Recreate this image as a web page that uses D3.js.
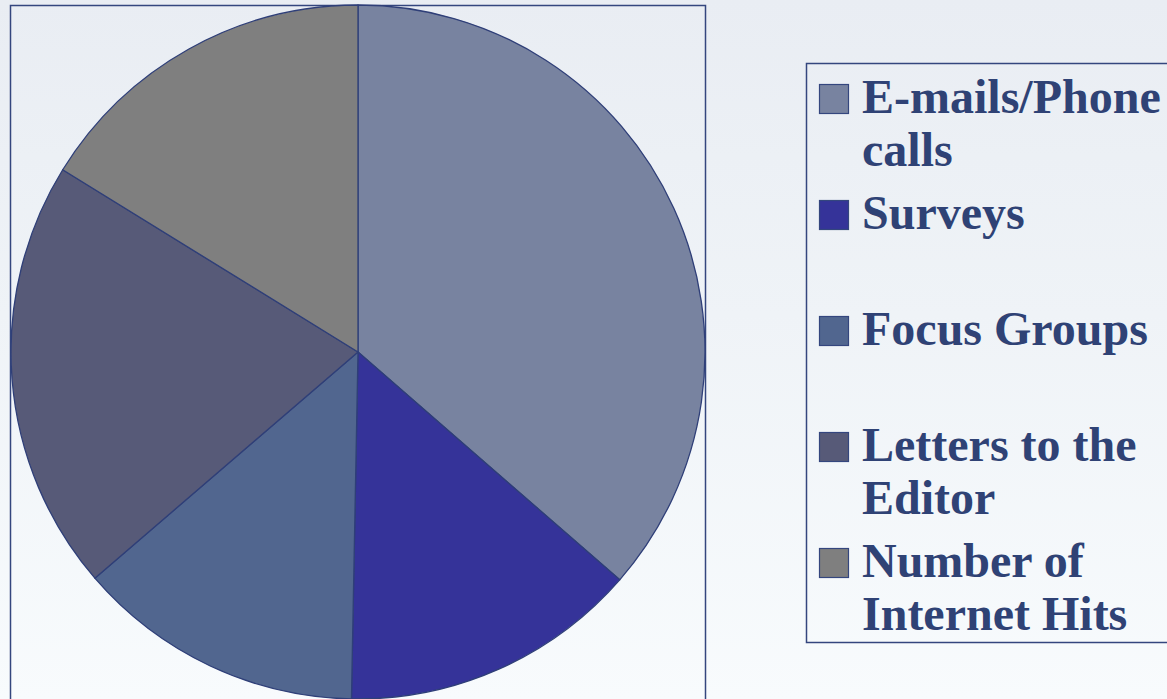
<!DOCTYPE html>
<html>
<head>
<meta charset="utf-8">
<script src="https://cdn.jsdelivr.net/npm/d3@7"></script>
<style>
  html, body { margin: 0; padding: 0; }
  body { width: 1167px; height: 699px; overflow: hidden; }
</style>
</head>
<body>
<script>
// Feedback channels and their shares (%)
const categories = ["E-mails/Phone calls", "Surveys", "Focus Groups", "Letters to the Editor", "Number of Internet Hits"];
const values = [36.4, 13.9, 13.4, 20.1, 16.2];
const colors = ["#7883a0", "#353399", "#51668f", "#575a78", "#7f7f7f"];
// Legend labels as wrapped lines
const legendLines = [["E-mails/Phone", "calls"], ["Surveys"], ["Focus Groups"], ["Letters to the", "Editor"], ["Number of", "Internet Hits"]];

const W = 1167, H = 699;
const svg = d3.select("body").append("svg").attr("width", W).attr("height", H);

const defs = svg.append("defs");
const bg = defs.append("linearGradient").attr("id", "bg").attr("x1", 0).attr("y1", 0).attr("x2", 0).attr("y2", 1);
bg.append("stop").attr("offset", "0%").attr("stop-color", "#e9edf3");
bg.append("stop").attr("offset", "45%").attr("stop-color", "#eff3f7");
bg.append("stop").attr("offset", "100%").attr("stop-color", "#f8fbfd");
svg.append("rect").attr("width", W).attr("height", H).attr("fill", "url(#bg)");

const navy = "#34467e";

// Plot frame
svg.append("rect")
  .attr("x", 10.5).attr("y", 5.5).attr("width", 695).attr("height", 700)
  .attr("fill", "none").attr("stroke", navy).attr("stroke-width", 1.5);

// Pie
const cx = 358, cy = 352, r = 347;
const pie = d3.pie().sort(null).value(d => d.v).startAngle(0).endAngle(2 * Math.PI);
const arc = d3.arc().innerRadius(0).outerRadius(r);
const data = categories.map((c, i) => ({ c, v: values[i], col: colors[i] }));

svg.append("g").attr("transform", `translate(${cx},${cy})`)
  .selectAll("path").data(pie(data)).join("path")
  .attr("d", arc)
  .attr("fill", d => d.data.col)
  .attr("stroke", "#2f3f78")
  .attr("stroke-width", 1.3)
  .attr("stroke-linejoin", "round");

// Legend box
svg.append("rect")
  .attr("x", 806.5).attr("y", 63.5).attr("width", 400).attr("height", 579)
  .attr("fill", "none").attr("stroke", navy).attr("stroke-width", 1.5);

const legend = svg.append("g");
const yScale = d3.scaleLinear().domain([0, categories.length - 1]).range([113, 577]);
const item = legend.selectAll("g").data(data).join("g")
  .attr("transform", (d, i) => `translate(0,${yScale(i)})`);

item.append("rect")
  .attr("x", 819.5).attr("y", -28.5).attr("width", 29).attr("height", 29)
  .attr("fill", d => d.col)
  .attr("stroke", navy).attr("stroke-width", 1.2);

item.append("text")
  .attr("x", 862).attr("y", 0)
  .attr("font-family", "'Liberation Serif', 'Times New Roman', serif")
  .attr("font-weight", "bold")
  .attr("font-size", 48)
  .attr("fill", "#2f4275")
  .selectAll("tspan").data((d, i) => legendLines[i]).join("tspan")
  .attr("x", 862)
  .attr("dy", (d, j) => j === 0 ? 0 : 53)
  .text(d => d);
</script>
</body>
</html>
